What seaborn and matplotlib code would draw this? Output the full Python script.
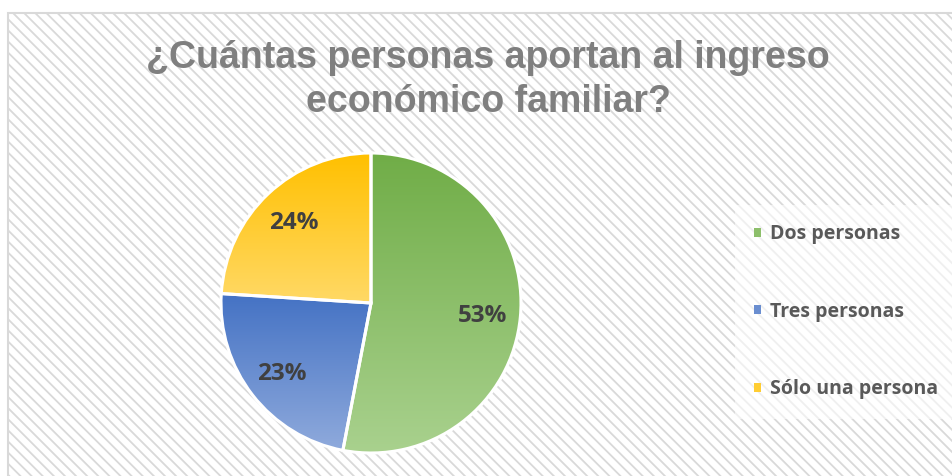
import numpy as np
import matplotlib
matplotlib.use("Agg")
import matplotlib.pyplot as plt
import seaborn as sns
from matplotlib.colors import ListedColormap
from matplotlib.patches import Patch, Rectangle

categorias = ["Dos personas", "Tres personas", "Sólo una persona"]
porcentajes = [53, 23, 24]
titulo_1 = "¿Cuántas personas aportan al ingreso"
titulo_2 = "económico familiar?"

color_arriba = ["#70ad47", "#4472c4", "#ffc000"]
color_abajo = ["#a9d18e", "#8faadc", "#ffd966"]

sns.set_style("white")
plt.rcParams["font.family"] = ["Open Sans", "DejaVu Sans"]
plt.rcParams["hatch.linewidth"] = 1.3
plt.rcParams["hatch.color"] = "#e0e0e0"

W, H = 953, 476
fig = plt.figure(figsize=(W / 100, H / 100), dpi=100)
fig.patch.set_facecolor("white")

# striped chart area with light border
fondo = Rectangle((8 / W, -0.05), 1.0, 1 - 13 / H + 0.05, transform=fig.transFigure,
                  facecolor="white", edgecolor="#d9d9d9", hatch="\\\\\\", linewidth=1.5, zorder=-5)
fig.patches.append(fondo)

# title
fig.text(488 / W, 1 - 68 / H, titulo_1, ha="center", va="baseline", fontsize=27,
         fontweight="bold", color="#7f7f7f", family="Liberation Sans")
fig.text(488 / W, 1 - 112 / H, titulo_2, ha="center", va="baseline", fontsize=27,
         fontweight="bold", color="#7f7f7f", family="Liberation Sans")

# pie
cx, cy, r = 371, 303, 150
ax = fig.add_axes([(cx - r) / W, (H - cy - r) / H, 2 * r / W, 2 * r / H])
ax.set_facecolor("none")
wedges, textos, pcts = ax.pie(porcentajes, startangle=90, counterclock=False,
                              autopct="%1.0f%%", pctdistance=0.75,
                              wedgeprops=dict(edgecolor="white", linewidth=2.2, facecolor="none"),
                              textprops=dict(fontsize=17.5, fontweight="bold", color="#404040"))

grad = np.linspace(0, 1, 256).reshape(-1, 1)
for w, top, bot in zip(wedges, color_arriba, color_abajo):
    bb = w.get_path().get_extents()
    cmap = ListedColormap(sns.blend_palette([top, bot], 256))
    ax.imshow(grad, cmap=cmap, extent=[bb.x0, bb.x1, bb.y0, bb.y1], origin="upper",
              aspect="auto", clip_path=w, zorder=0.5)
    w.set_zorder(1)
for t in pcts:
    t.set_zorder(3)
    x, y = t.get_position()
    t.set_position((x, y - 0.015))
ax.set_xlim(-1, 1)
ax.set_ylim(-1, 1)
ax.set_aspect("equal")
ax.axis("off")

# legend
handles = [Patch(facecolor=sns.blend_palette([a, b], 3)[1], edgecolor="none")
           for a, b in zip(color_arriba, color_abajo)]
leg = fig.legend(handles, categorias, loc="upper left", bbox_to_anchor=(735 / W, 1 - 205 / H),
                 frameon=True, fancybox=False, framealpha=0.6, edgecolor="none",
                 fontsize=14, labelspacing=2.95, handlelength=0.36, handleheight=0.36,
                 handletextpad=0.45, borderpad=1.0, borderaxespad=0)
for t in leg.get_texts():
    t.set_color("#595959")
    t.set_fontweight("bold")

fig.savefig("out.png", dpi=100)
